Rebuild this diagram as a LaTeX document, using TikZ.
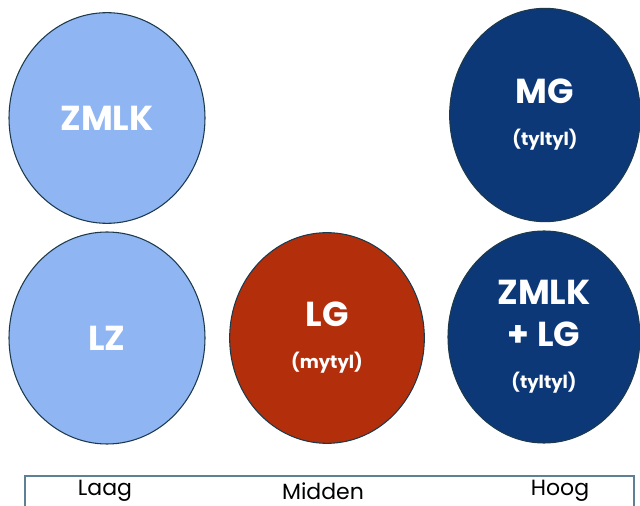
\documentclass[tikz,border=0pt]{standalone}
\usepackage{fontspec}
\setmainfont{Poppins}
\usetikzlibrary{shapes.geometric}
\definecolor{lichtblauw}{HTML}{8FB5F2}
\definecolor{donkerblauw}{HTML}{0C3878}
\definecolor{roestrood}{HTML}{B32F0C}
\definecolor{rand}{HTML}{1C3A4C}
\definecolor{aslijn}{HTML}{5F7F94}
\newcommand{\groottxt}{\fontsize{26}{31.5}\selectfont\bfseries}
\newcommand{\kleintxt}{\fontsize{13.5}{31.5}\selectfont\bfseries}
\begin{document}
\begin{tikzpicture}[x=0.75pt, y=-0.75pt,
    groep/.style={ellipse, draw=rand, line width=0.8pt, inner sep=0pt, text=white, align=center, font=\groottxt},
    niveau/.style={font=\fontsize{16.5}{20}\selectfont, anchor=center}]
    \useasboundingbox (0,0) rectangle (640,506);

    \node[groep, fill=lichtblauw, minimum width=147pt, minimum height=158pt] (zmlk) at (107,118) {ZMLK};
    \node[groep, fill=lichtblauw, minimum width=147pt, minimum height=159pt] (lz) at (107,338) {LZ};
    \node[groep, fill=roestrood, minimum width=146pt, minimum height=158pt] (lg) at (327,338) {LG\\\kleintxt (mytyl)};
    \node[groep, fill=donkerblauw, minimum width=143pt, minimum height=160pt] (mg) at (545,115) {MG\\\kleintxt (tyltyl)};
    \node[groep, fill=donkerblauw, minimum width=144pt, minimum height=159pt] (zmlklg) at (544,337) {ZMLK\\+ LG\\\kleintxt (tyltyl)};

    % as onderaan
    \coordinate (aslinks) at (25,476);
    \coordinate (asrechts) at (634,476);
    \draw[aslijn, line width=0.8pt] (aslinks |- 0,506) -- (aslinks) -- (asrechts) -- (asrechts |- 0,506);

    \node[niveau] (laag) at (105,491) {Laag};
    \node[niveau] (midden) at (323,491) {Midden};
    \node[niveau] (hoog) at (560,491) {Hoog};
\end{tikzpicture}
\end{document}
